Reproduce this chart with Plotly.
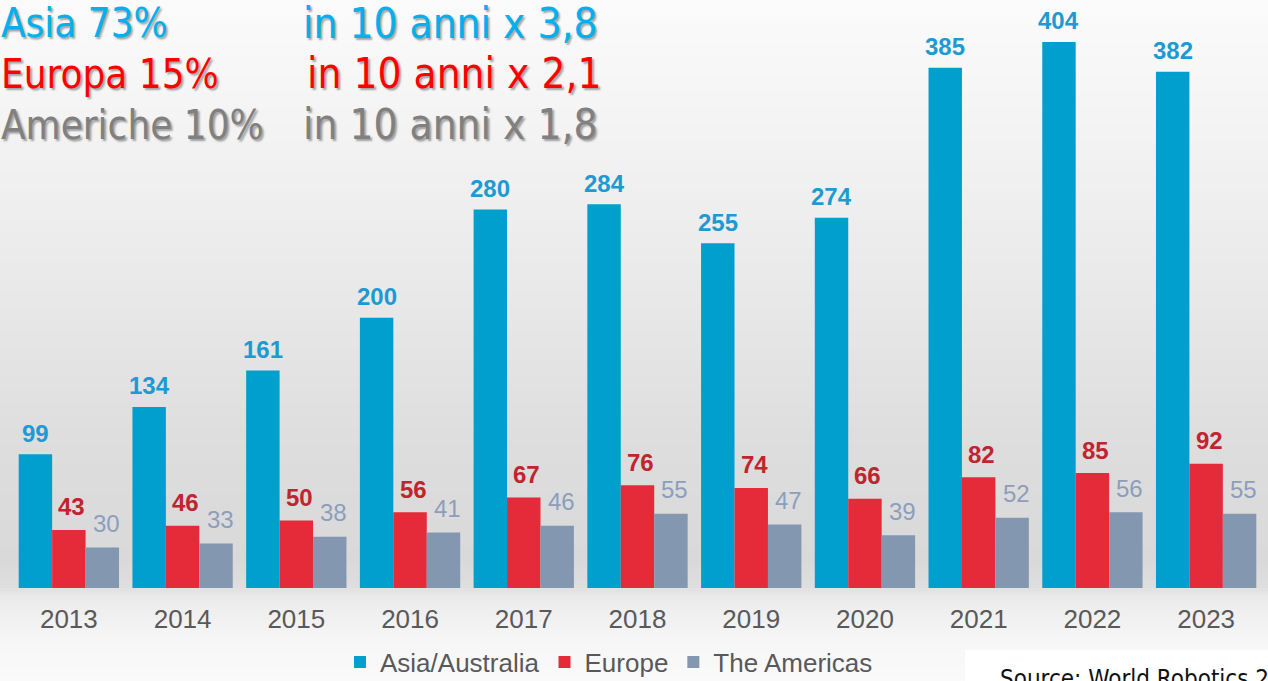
import plotly.graph_objects as go

# ---------------- data ----------------
years = [2013, 2014, 2015, 2016, 2017, 2018, 2019, 2020, 2021, 2022, 2023]
asia = [99, 134, 161, 200, 280, 284, 255, 274, 385, 404, 382]
europe = [43, 46, 50, 56, 67, 76, 74, 66, 82, 85, 92]
americas = [30, 33, 38, 41, 46, 55, 47, 39, 52, 56, 55]
series_names = ["Asia/Australia", "Europe", "The Americas"]
tick_labels = [str(y) for y in years]

headline_left = ["Asia 73%", "Europa 15%", "Americhe 10%"]
headline_right = ["in 10 anni x 3,8", "in 10 anni x 2,1", "in 10 anni x 1,8"]
source_text = "Source: World Robotics 2024"

# ---------------- style ----------------
W, H = 1268, 681
bar_colors = ["#009FCE", "#E52A3A", "#8497B0"]
label_colors = ["#1E9AD3", "#C0242E", "#8C9EBB"]
label_bold = [True, True, False]
head_colors = ["#00B0F0", "#FF0000", "#808080"]
bar_w = 0.294
offsets = [-0.441, -0.147, 0.147]
label_xshift = [0, 3, 4]
label_yshift = [21, 23, 24]


def px_x(X):
    return X / W


def px_y(Y):
    return 1 - Y / H


fig = go.Figure()

series = [asia, europe, americas]
for name, vals, col, off in zip(series_names, series, bar_colors, offsets):
    fig.add_trace(go.Bar(
        x=years, y=vals, name=name, width=bar_w, offset=off,
        marker=dict(color=col, line=dict(width=0)),
    ))

annotations = []
# data labels
for k, vals in enumerate(series):
    for yr, v in zip(years, vals):
        txt = f"<b>{v}</b>" if label_bold[k] else f"{v}"
        annotations.append(dict(
            x=yr + offsets[k] + bar_w / 2, y=v, xref="x", yref="y",
            text=txt, showarrow=False, yanchor="middle", xanchor="center",
            xshift=label_xshift[k], yshift=label_yshift[k],
            font=dict(family="Liberation Sans, Arial", size=24, color=label_colors[k]),
        ))

# headline texts
head_y = [23, 74, 125]
right_x = [301, 305, 301]
left_size = 40
for i in range(3):
    for txt, xx, fs in ((headline_left[i], -1, left_size), (headline_right[i], right_x[i], 42)):
        annotations.append(dict(
            x=px_x(xx), y=px_y(head_y[i]), xref="paper", yref="paper",
            text=txt, showarrow=False, xanchor="left", yanchor="middle",
            font=dict(family="DejaVu Sans Condensed, DejaVu Sans", size=fs,
                      color=head_colors[i],
                      shadow="2px 2px 2px rgba(0,0,0,0.35)"),
        ))

# source
annotations.append(dict(
    x=px_x(998), y=px_y(663), xref="paper", yref="paper",
    text=source_text, showarrow=False, xanchor="left", yanchor="top",
    font=dict(family="DejaVu Sans Condensed, DejaVu Sans", size=24, color="#111111"),
))

# background gradient bands
stops = [(0, 251), (150, 242), (300, 232), (450, 221), (560, 217),
         (586, 222), (600, 236), (640, 246), (681, 250)]


def gray_at(y):
    for (y0, g0), (y1, g1) in zip(stops[:-1], stops[1:]):
        if y0 <= y <= y1:
            t = (y - y0) / (y1 - y0)
            return g0 + t * (g1 - g0)
    return stops[-1][1]


shapes = []
step = 3
y = 0
while y < H:
    g = int(round(gray_at(y + step / 2)))
    shapes.append(dict(
        type="rect", xref="paper", yref="paper", layer="below",
        x0=0, x1=1, y0=px_y(min(y + step, H)), y1=px_y(y),
        fillcolor=f"rgb({g},{g},{g})", line=dict(width=0),
    ))
    y += step
# white source box
shapes.append(dict(
    type="rect", xref="paper", yref="paper", layer="below",
    x0=px_x(965), x1=1, y0=0, y1=px_y(650),
    fillcolor="#ffffff", line=dict(width=0),
))

fig.update_layout(
    width=W, height=H,
    margin=dict(l=0, r=0, t=0, b=0, autoexpand=False),
    paper_bgcolor="#fafafa",
    plot_bgcolor="rgba(0,0,0,0)",
    barmode="overlay",
    showlegend=True,
    legend=dict(
        orientation="h", x=px_x(340), y=px_y(662), xanchor="left", yanchor="middle",
        font=dict(family="Liberation Sans, Arial", size=26, color="#595959"),
        bgcolor="rgba(0,0,0,0)", itemwidth=30, traceorder="normal",
    ),
    xaxis=dict(
        domain=[px_x(12), px_x(1263)], range=[2012.5, 2023.5],
        tickvals=years, ticktext=tick_labels,
        tickfont=dict(family="Liberation Sans, Arial", size=26, color="#595959"),
        showgrid=False, zeroline=False, showline=False,
        ticks="outside", ticklen=8, tickcolor="rgba(0,0,0,0)",
        fixedrange=True, automargin=False,
    ),
    yaxis=dict(
        domain=[px_y(588), 1], range=[0, 588 / 1.3515],
        visible=False, showgrid=False, zeroline=False, fixedrange=True,
        automargin=False,
    ),
    annotations=annotations,
    shapes=shapes,
)

fig.write_html(
    "out.html",
    config={"displayModeBar": False},
    post_script="document.body.style.margin='0';document.body.style.overflow='hidden';",
)
